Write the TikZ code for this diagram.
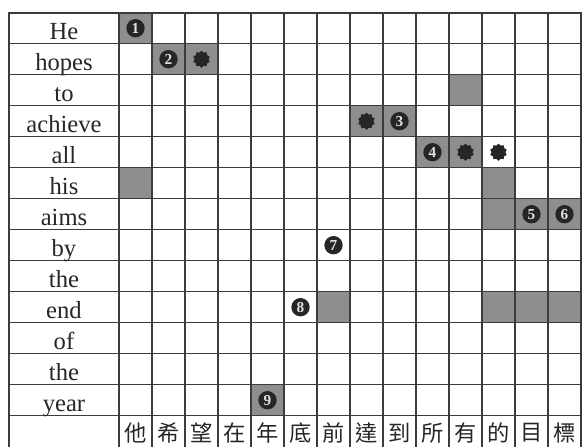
\documentclass[tikz,border=0pt]{standalone}
\usepackage{fontspec}
\setmainfont{Liberation Serif}
\newfontfamily\cjkfont{Noto Sans CJK TC}
\usepackage{tikz}
\usetikzlibrary{shapes.geometric}
\definecolor{mygrid}{RGB}{60,60,60}
\definecolor{myshade}{RGB}{142,142,142}
\definecolor{mydark}{RGB}{38,38,38}
\definecolor{mynum}{RGB}{225,225,225}
\tikzset{
  gridline/.style={line width=1.1pt, color=mygrid},
  frameline/.style={line width=1.7pt, color=mygrid},
  shadecell/.style={fill=myshade},
  wordlabel/.style={anchor=base, inner sep=0pt,
    font=\fontsize{21}{21}\selectfont, color=black!85},
  hanzi/.style={inner sep=0pt,
    font=\cjkfont\fontsize{19}{19}\selectfont, color=black!85},
  numdot/.style={circle, fill=mydark, minimum size=0.55cm, inner sep=0pt,
    font=\bfseries\fontsize{13}{13}\selectfont, text=mynum},
  blobdot/.style={star, star points=10, star point ratio=1.25,
    fill=mydark, minimum size=0.52cm, inner sep=0pt}
}

\begin{document}
\begin{tikzpicture}[x=0.99cm, y=0.93cm]
  \useasboundingbox (-3.606,0.41) rectangle (14.121,-14.01);

  % Shaded cells
  \foreach \c/\r in {0/0, 1/1, 2/1, 10/2, 7/3, 8/3, 9/4, 10/4, 0/5, 11/5,
                     11/6, 12/6, 13/6, 6/9, 11/9, 12/9, 13/9, 4/12}
    \fill[shadecell] (\c,-\r) rectangle ++(1,-1);

  % Grid
  \foreach \y in {1,...,13}
    \draw[gridline] (-3.333,-\y) -- (14,-\y);
  \foreach \x in {0,...,13}
    \draw[gridline] (\x,0) -- (\x,-14.01);
  \draw[frameline] (-3.333,-14.01) -- (-3.333,0) -- (14,0) -- (14,-14.01);

  % English words
  \foreach \w [count=\i from 0] in {He, hopes, to, achieve, all, his, aims,
                                    by, the, end, of, the, year}
    \node[wordlabel] (w\i) at (-1.667,-\i-0.85) {\w};

  % Chinese characters
  \foreach \h [count=\i from 0] in {他,希,望,在,年,底,前,達,到,所,有,的,目,標}
    \node[hanzi] (h\i) at (\i+0.5,-13.55) {\h};

  % Numbered links
  \node[numdot] (n1) at (0.5,-0.5) {1};
  \node[numdot] (n2) at (1.5,-1.5) {2};
  \node[numdot] (n3) at (8.5,-3.5) {3};
  \node[numdot] (n4) at (9.5,-4.5) {4};
  \node[numdot] (n5) at (12.5,-6.5) {5};
  \node[numdot] (n6) at (13.5,-6.5) {6};
  \node[numdot] (n7) at (6.5,-7.5) {7};
  \node[numdot] (n8) at (5.5,-9.5) {8};
  \node[numdot] (n9) at (4.5,-12.5) {9};

  % Unnumbered links
  \node[blobdot] (b1) at (2.5,-1.5) {};
  \node[blobdot] (b2) at (7.5,-3.5) {};
  \node[blobdot] (b3) at (10.5,-4.5) {};
  \node[blobdot] (b4) at (11.5,-4.5) {};
\end{tikzpicture}
\end{document}
